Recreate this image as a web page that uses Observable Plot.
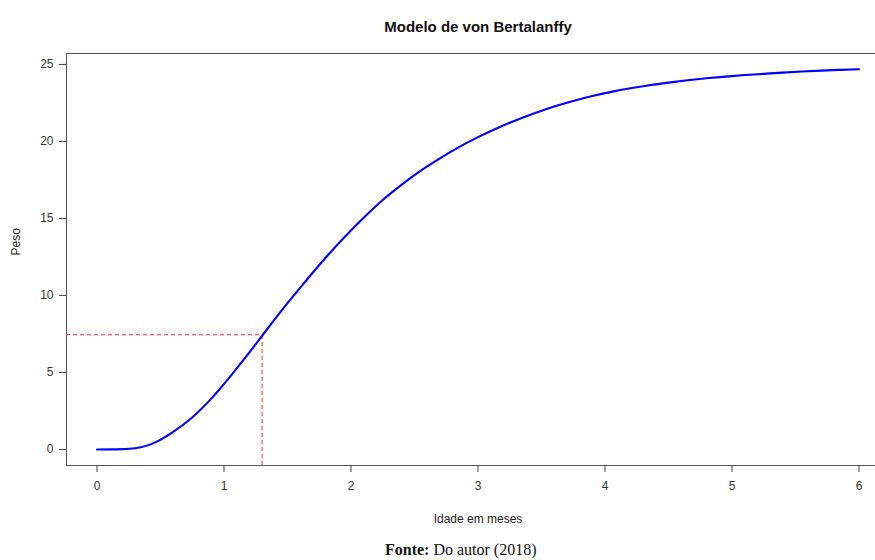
<!DOCTYPE html>
<html>
<head>
<meta charset="utf-8">
<script src="https://cdn.jsdelivr.net/npm/d3@7"></script>
<script src="https://cdn.jsdelivr.net/npm/@observablehq/plot@0.6"></script>
<style>
  html, body { margin: 0; padding: 0; background: #fff; }
  #wrap { position: relative; width: 875px; height: 560px; overflow: hidden; background: #fff; }
  #caption { position: absolute; left: 385px; top: 541px; font-family: "Liberation Serif", "Times New Roman", serif; font-size: 16px; line-height: 18px; color: #111; white-space: nowrap; }
</style>
</head>
<body>
<div id="wrap"></div>
<script>
// ---- Data ----
const ageMonths = [0, 0.15, 0.3, 0.45, 0.6, 0.75, 0.9, 1.05, 1.2, 1.35, 1.5, 1.65, 1.8, 1.95,
  2.1, 2.25, 2.4, 2.55, 2.7, 2.85, 3.0, 3.15, 3.3, 3.45, 3.6, 3.75, 3.9, 4.05, 4.2, 4.35,
  4.5, 4.65, 4.8, 4.95, 5.1, 5.25, 5.4, 5.55, 5.7, 5.85, 6.0];
const weight = [0, 0.01, 0.08, 0.43, 1.15, 2.08, 3.3, 4.75, 6.3, 7.92, 9.5, 11.0, 12.45, 13.8,
  15.05, 16.2, 17.2, 18.1, 18.9, 19.63, 20.28, 20.86, 21.38, 21.85, 22.27, 22.63, 22.95, 23.22, 23.45, 23.65,
  23.82, 23.97, 24.1, 24.21, 24.31, 24.39, 24.47, 24.54, 24.6, 24.65, 24.69];
const inflectionAge = [1.3];
const inflectionWeight = [7.45];
const xTicks = [0, 1, 2, 3, 4, 5, 6];
const yTicks = [0, 5, 10, 15, 20, 25];
const titleText = "Modelo de von Bertalanffy";
const xLabel = "Idade em meses";
const yLabel = "Peso";
const captionBold = "Fonte:";
const captionText = "Do autor (2018)";

const xDomain = [-0.24, 6.13];
const yDomain = [-1.04, 25.71];

const curve = ageMonths.map((t, i) => ({t, w: weight[i]}));
const inflection = inflectionAge.map((a, i) => ({a, w: inflectionWeight[i]}));

const font = "'Liberation Sans', Arial, sans-serif";

const chart = Plot.plot({
  width: 875,
  height: 538,
  marginTop: 53,
  marginBottom: 73,
  marginLeft: 66,
  marginRight: 0,
  style: {fontFamily: font, background: "#fff", color: "#333"},
  x: {domain: xDomain},
  y: {domain: yDomain},
  marks: [
    Plot.frame({stroke: "#555"}),
    Plot.ruleY(inflection, {y: "w", x1: () => xDomain[0], x2: "a", stroke: "#ff2a2a", strokeDasharray: "4,3", strokeWidth: 1}),
    Plot.ruleX(inflection, {x: "a", y1: () => yDomain[0], y2: "w", stroke: "#ff2a2a", strokeDasharray: "4,3", strokeWidth: 1}),
    Plot.line(curve, {x: "t", y: "w", stroke: "#0000ff", strokeWidth: 2.1, curve: "monotone-x"}),
    Plot.axisX({ticks: xTicks, tickFormat: d3.format("d"), tickSize: 7, tickPadding: 9, fontSize: 12, label: null, stroke: "#444"}),
    Plot.axisY({ticks: yTicks, tickFormat: d3.format("d"), tickSize: 7, tickPadding: 6, fontSize: 12, label: null, stroke: "#444"}),
    Plot.text([titleText], {text: d => d, x: () => 3, frameAnchor: "top", dy: -32, fontSize: 15, fontWeight: "bold", fill: "#111"}),
    Plot.text([xLabel], {text: d => d, x: () => 3, frameAnchor: "bottom", dy: 57, fontSize: 12, fill: "#222"}),
    Plot.text([yLabel], {text: d => d, frameAnchor: "left", dx: -50, dy: -4, rotate: -90, fontSize: 12, fill: "#222"})
  ]
});

const wrap = document.getElementById("wrap");
wrap.appendChild(chart);
const cap = document.createElement("div");
cap.id = "caption";
const b = document.createElement("b");
b.textContent = captionBold;
cap.appendChild(b);
cap.appendChild(document.createTextNode(" " + captionText));
wrap.appendChild(cap);
</script>
</body>
</html>
